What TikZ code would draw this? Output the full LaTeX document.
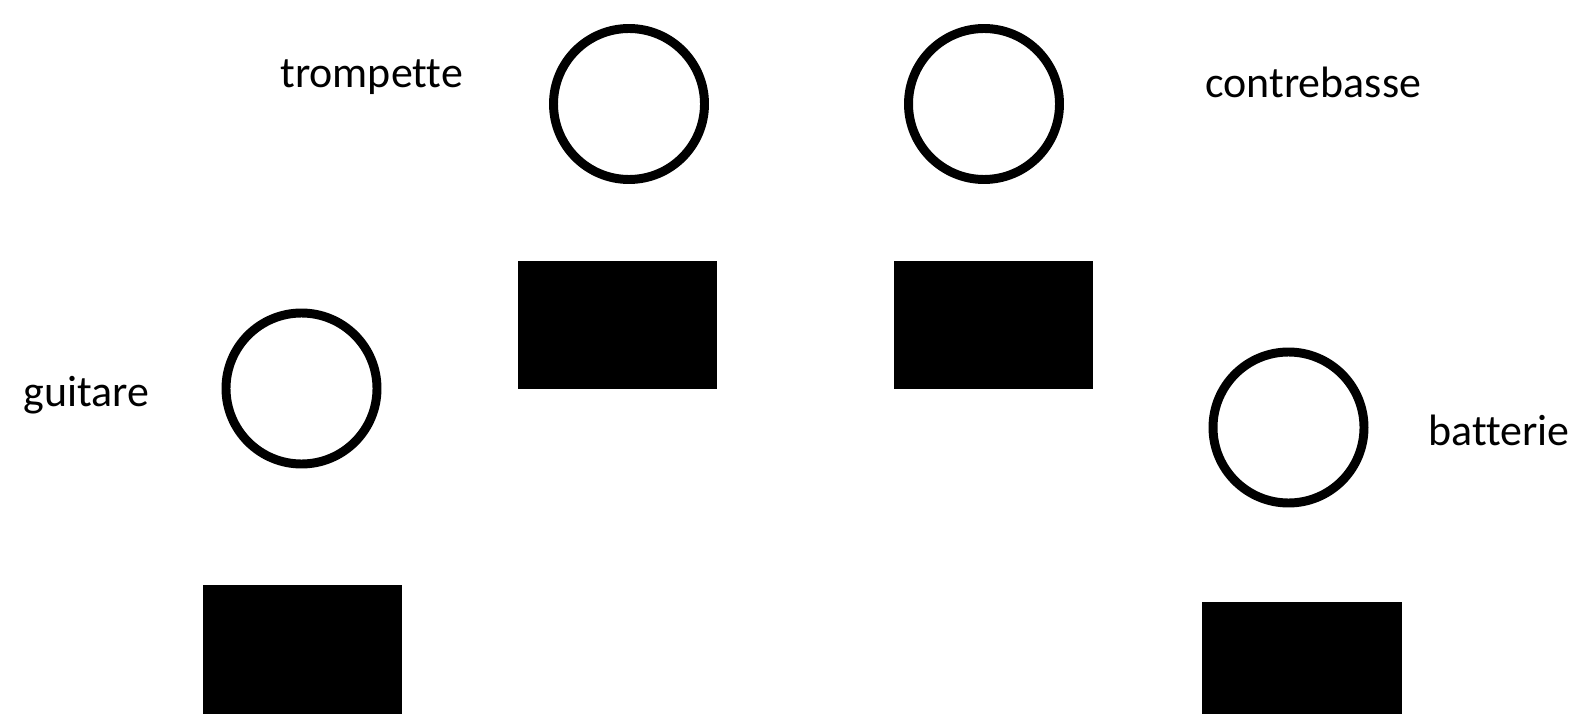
\documentclass[tikz,border=0pt]{standalone}
\usepackage{fontspec}
\setmainfont{Carlito}[Ligatures=NoCommon]
\tikzset{
    seat/.style={draw, circle, line width=5.1pt, minimum size=3.02cm, inner sep=0pt},
    stand/.style={fill=black, rectangle, inner sep=0pt, minimum width=3.98cm, minimum height=2.56cm},
    instr/.style={anchor=base west, inner sep=0pt, font=\fontsize{25}{30}\selectfont}
}
\begin{document}
\begin{tikzpicture}
    \useasboundingbox (0,0) rectangle (31.58,14.28);

    \node[seat] (trompette) at (12.58,12.20) {};
    \node[seat] (contrebasse) at (19.68,12.20) {};
    \node[seat] (guitare) at (6.03,6.51) {};
    \node[seat] (batterie) at (25.77,5.73) {};

    \node[stand] (pupitreT) at (12.35,7.78) {};
    \node[stand] (pupitreC) at (19.87,7.78) {};
    \node[stand, minimum height=2.58cm] (pupitreG) at (6.05,1.29) {};
    \node[stand, minimum width=4cm, minimum height=2.24cm] (pupitreB) at (26.04,1.12) {};

    \node[instr] (nomT) at (5.60,12.52) {trompette};
    \node[instr] (nomC) at (24.10,12.32) {contrebasse};
    \node[instr] (nomG) at (0.46,6.16) {guitare};
    \node[instr] (nomB) at (28.56,5.38) {batterie};
\end{tikzpicture}
\end{document}
